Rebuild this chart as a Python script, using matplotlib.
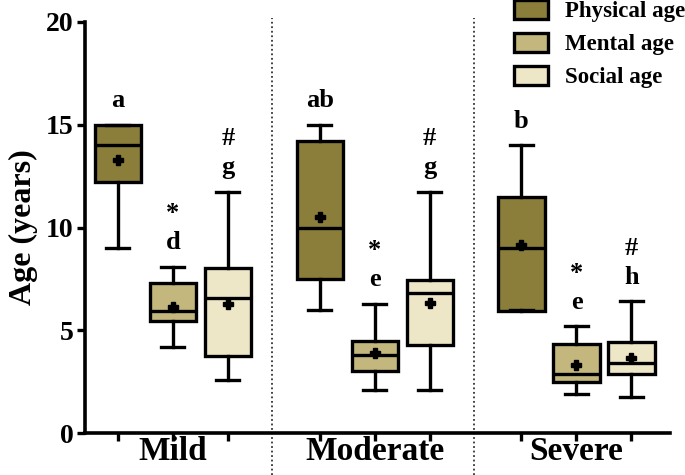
import numpy as np
import matplotlib
matplotlib.use('Agg')
import matplotlib.pyplot as plt
from matplotlib.patches import Patch

plt.rcParams['font.family'] = ['Liberation Serif', 'DejaVu Serif']
plt.rcParams['font.weight'] = 'bold'

groups = ['Mild', 'Moderate', 'Severe']
series = ['Physical age', 'Mental age', 'Social age']
colors = ['#8b7d3a', '#c3b77d', '#ede7c8']

# box stats per group, in order physical / mental / social
whislo = [9.0, 4.2, 2.6,   6.0, 2.1, 2.1,   6.0, 1.9, 1.75]
q1     = [12.2, 5.45, 3.75, 7.5, 3.0, 4.3,  5.95, 2.5, 2.85]
med    = [14.0, 5.95, 6.55, 10.0, 3.8, 6.8, 9.0, 2.85, 3.4]
q3     = [15.0, 7.3, 8.05,  14.2, 4.5, 7.45, 11.5, 4.35, 4.45]
whishi = [15.0, 8.1, 11.75, 15.0, 6.3, 11.75, 14.0, 5.2, 6.4]
means  = [13.3, 6.15, 6.3,  10.5, 3.9, 6.35, 9.15, 3.3, 3.65]

letters = ['a', 'd', 'g', 'ab', 'e', 'g', 'b', 'e', 'h']
symbols = ['', '*', '#', '', '*', '#', '', '*', '#']

fig = plt.figure(figsize=(6.85, 4.75), dpi=100)
ax = fig.add_axes([0.124, 0.0884, 0.854, 0.8653])

gap = 3.67
positions = []
for g in range(3):
    for s in range(3):
        positions.append(g * gap + s)

stats = []
for i in range(9):
    stats.append(dict(whislo=whislo[i], q1=q1[i], med=med[i], q3=q3[i],
                      whishi=whishi[i], mean=means[i], fliers=[]))

lw = 2.4
bp = ax.bxp(stats, positions=positions, widths=0.84, patch_artist=True,
            showmeans=True, capwidths=0.42,
            boxprops=dict(linewidth=lw, edgecolor='black'),
            whiskerprops=dict(linewidth=lw, color='black'),
            capprops=dict(linewidth=lw, color='black'),
            medianprops=dict(linewidth=lw, color='black'),
            meanprops=dict(marker='P', markerfacecolor='black',
                           markeredgecolor='black', markersize=7))
for i, box in enumerate(bp['boxes']):
    box.set_facecolor(colors[i % 3])

for i in range(9):
    base = whishi[i] + 0.85
    ax.text(positions[i], base, letters[i], ha='center', va='baseline',
            fontsize=19, fontweight='bold')
    if symbols[i]:
        ax.text(positions[i], base + 1.4, symbols[i], ha='center', va='baseline',
                fontsize=19, fontweight='bold')

# dotted separators between groups
for g in range(2):
    sep = g * gap + (2 + gap) / 2 - 0.03
    ax.axvline(sep, ymin=-0.102, ymax=1.01, color='#333333', linestyle=(0, (1, 1.5)),
               linewidth=1.3, clip_on=False)

ax.set_xlim(-0.6, 10.04)
ax.set_ylim(0, 20)
ax.set_yticks([0, 5, 10, 15, 20])
ax.xaxis.remove_overlapping_locs = False
ax.set_xticks(positions)
ax.set_xticklabels([''] * 9)
centers = [g * gap + 1 for g in range(3)]
ax.set_xticks(centers, minor=True)
ax.set_xticklabels(groups, minor=True, fontsize=24, fontweight='bold')
ax.tick_params(axis='x', which='minor', length=0, pad=2.5)
ax.tick_params(axis='x', which='major', length=6, width=2.4, direction='out')
ax.tick_params(axis='y', length=6, width=2.4, labelsize=20, pad=2)
for lab in ax.get_yticklabels():
    lab.set_fontweight('bold')

for side in ['top', 'right']:
    ax.spines[side].set_visible(False)
for side in ['left', 'bottom']:
    ax.spines[side].set_linewidth(2.6)

ax.set_ylabel('Age (years)', fontsize=23, fontweight='bold', labelpad=6)

handles = [Patch(facecolor=c, edgecolor='black', linewidth=2.4) for c in colors]
fig.legend(handles, series, loc='upper left', bbox_to_anchor=(514 / 685, 1.0),
           frameon=False, borderpad=0, borderaxespad=0, handlelength=1.49,
           handleheight=0.9, handletextpad=0.72, labelspacing=0.46,
           prop=dict(family='Liberation Serif', weight='bold', size=16.5))

fig.savefig('out.png', dpi=100)
